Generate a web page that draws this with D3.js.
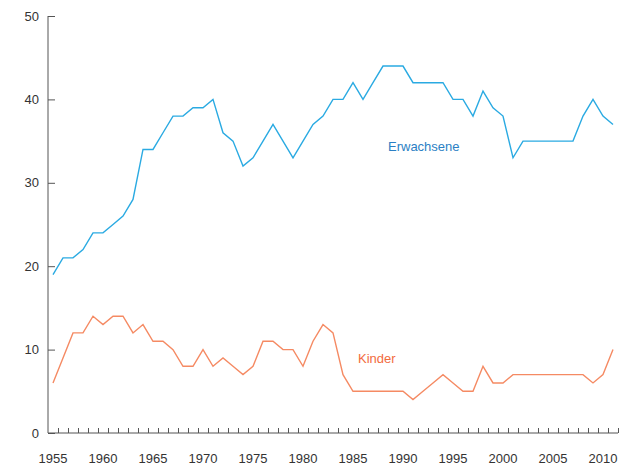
<!DOCTYPE html>
<html>
<head>
<meta charset="utf-8">
<script src="https://cdn.jsdelivr.net/npm/d3@7"></script>
<style>
  body { margin: 0; background: #fff; }
  svg text { font-family: "Liberation Sans", Arial, sans-serif; }
</style>
</head>
<body>
<svg id="chart" width="624" height="466"></svg>
<script>
// years 1955 - 2011
const years = d3.range(1955, 2012);

const erwachsene = [19, 21, 21, 22, 24, 24, 25, 26, 28, 34,
  34, 36, 38, 38, 39, 39, 40, 36, 35, 32,
  33, 35, 37, 35, 33, 35, 37, 38, 40, 40,
  42, 40, 42, 44, 44, 44, 42, 42, 42, 42,
  40, 40, 38, 41, 39, 38, 33, 35, 35, 35,
  35, 35, 35, 38, 40, 38, 37];

const kinder = [6, 9, 12, 12, 14, 13, 14, 14, 12, 13,
  11, 11, 10, 8, 8, 10, 8, 9, 8, 7,
  8, 11, 11, 10, 10, 8, 11, 13, 12, 7,
  5, 5, 5, 5, 5, 5, 4, 5, 6, 7,
  6, 5, 5, 8, 6, 6, 7, 7, 7, 7,
  7, 7, 7, 7, 6, 7, 10];

const yTicks = [0, 10, 20, 30, 40, 50];
const xTickLabels = [1955, 1960, 1965, 1970, 1975, 1980, 1985, 1990, 1995, 2000, 2005, 2010];

const svg = d3.select('#chart');
const axisColor = '#555';

const x = d3.scaleLinear().domain([1954.5, 2011.5]).range([48, 618]);
const y = d3.scaleLinear().domain([0, 50]).range([433, 16]);

// y axis
const yAxis = svg.append('g')
    .attr('transform', `translate(${x(1954.5)},0)`)
    .call(d3.axisRight(y).tickValues(yTicks).tickSize(7).tickFormat(''));
yAxis.select('.domain').attr('stroke', axisColor).attr('d', `M0,${y(50)}V${y(0)}`);
yAxis.selectAll('.tick line').attr('stroke', axisColor);

svg.append('g').selectAll('text')
    .data(yTicks)
    .join('text')
    .attr('x', 39)
    .attr('y', d => y(d))
    .attr('dy', '0.35em')
    .attr('text-anchor', 'end')
    .attr('font-size', 13)
    .attr('fill', '#333')
    .text(d => d);

// x axis, small ticks between the years
const xAxis = svg.append('g')
    .attr('transform', `translate(0,${y(0)})`)
    .call(d3.axisTop(x).tickValues(d3.range(1955.5, 2012.5, 1)).tickSize(5).tickFormat(''));
xAxis.select('.domain').attr('stroke', axisColor).attr('d', `M${x(1954.5)},0H${x(2011.5)}`);
xAxis.selectAll('.tick line').attr('stroke', axisColor);

svg.append('g').selectAll('text')
    .data(xTickLabels)
    .join('text')
    .attr('x', d => x(d))
    .attr('y', 458)
    .attr('dy', '0.35em')
    .attr('text-anchor', 'middle')
    .attr('font-size', 13)
    .attr('fill', '#333')
    .text(d => d);

const line = d3.line()
    .x((d, i) => x(years[i]))
    .y(d => y(d));

svg.append('path')
    .datum(erwachsene)
    .attr('d', line)
    .attr('fill', 'none')
    .attr('stroke', '#2aaae2')
    .attr('stroke-width', 1.4);

svg.append('path')
    .datum(kinder)
    .attr('d', line)
    .attr('fill', 'none')
    .attr('stroke', '#f58a63')
    .attr('stroke-width', 1.4);

svg.append('text')
    .attr('x', 388)
    .attr('y', 151)
    .attr('font-size', 13)
    .attr('fill', '#2b7fc4')
    .text('Erwachsene');

svg.append('text')
    .attr('x', 358)
    .attr('y', 363)
    .attr('font-size', 13)
    .attr('fill', '#f26b3e')
    .text('Kinder');
</script>
</body>
</html>
